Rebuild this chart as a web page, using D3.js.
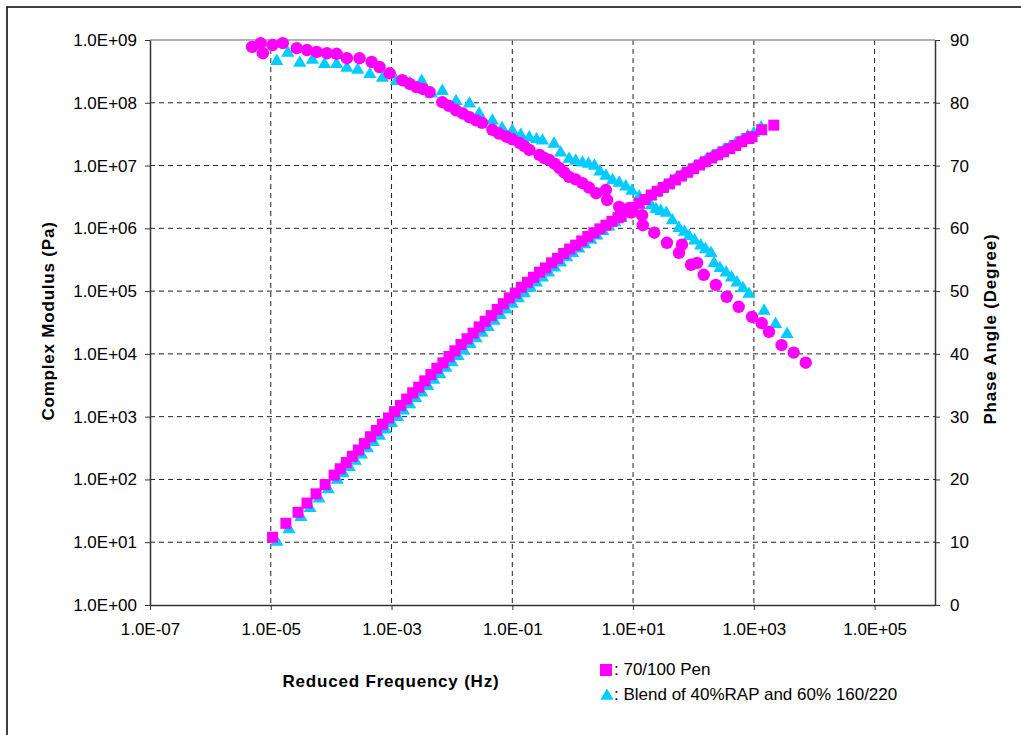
<!DOCTYPE html>
<html>
<head>
<meta charset="utf-8">
<script src="https://cdn.jsdelivr.net/npm/d3@7"></script>
<style>
  body { margin: 0; background: #fff; }
  text { font-family: "Liberation Sans", Arial, sans-serif; fill: #000; }
</style>
</head>
<body>
<div id="chart"></div>
<script>
// 70/100 Pen - complex modulus (squares)
var penFreqG = [1.07e-5, 1.78e-5, 2.82e-5, 3.98e-5, 5.62e-5, 7.94e-5, 1.12e-4, 1.41e-4, 1.78e-4, 2.24e-4, 2.82e-4, 3.55e-4, 4.47e-4, 5.62e-4, 7.08e-4, 8.91e-4,
  1.12e-3, 1.41e-3, 1.78e-3, 2.24e-3, 2.82e-3, 3.55e-3, 4.47e-3, 5.62e-3, 7.08e-3, 8.91e-3,
  1.12e-2, 1.41e-2, 1.78e-2, 2.24e-2, 2.82e-2, 3.55e-2, 4.47e-2, 5.62e-2, 7.08e-2, 8.91e-2,
  0.112, 0.141, 0.178, 0.224, 0.282, 0.355, 0.447, 0.562, 0.708, 0.891,
  1.12, 1.41, 1.78, 2.24, 2.82, 3.55, 4.47, 5.62, 6.31, 7.94,
  10, 12.6, 15.8, 20, 25.1, 31.6, 39.8, 50.1, 63.1, 79.4,
  100, 126, 158, 200, 251, 316, 398, 501, 631, 794,
  933, 1350, 2140];
var penG = [12, 20, 30, 42, 59, 83, 117, 148, 186, 234, 295, 372, 479, 603, 759, 955,
  1.2e3, 1.51e3, 1.91e3, 2.4e3, 2.95e3, 3.72e3, 4.68e3, 5.9e3, 7.2e3, 9.1e3,
  1.12e4, 1.41e4, 1.74e4, 2.14e4, 2.69e4, 3.31e4, 4.07e4, 5.1e4, 6.3e4, 7.8e4,
  9.3e4, 1.15e5, 1.38e5, 1.66e5, 2.0e5, 2.34e5, 2.82e5, 3.31e5, 3.98e5, 4.68e5,
  5.4e5, 6.3e5, 7.4e5, 8.5e5, 9.8e5, 1.12e6, 1.29e6, 1.48e6, 1.58e6, 1.86e6,
  2.14e6, 2.51e6, 2.88e6, 3.39e6, 3.89e6, 4.47e6, 5.1e6, 5.9e6, 6.8e6, 7.8e6,
  8.9e6, 1.02e7, 1.15e7, 1.32e7, 1.48e7, 1.66e7, 1.86e7, 2.09e7, 2.4e7, 2.69e7,
  2.88e7, 3.72e7, 4.4e7];

// Blend - complex modulus (triangles)
var blendFreqG = [1.26e-5, 2.0e-5, 3.16e-5, 4.47e-5, 6.31e-5, 8.91e-5,
  1.26e-4, 1.58e-4, 2.0e-4, 2.51e-4, 3.16e-4, 3.98e-4, 5.01e-4, 6.31e-4, 7.94e-4, 1.0e-3,
  1.26e-3, 1.58e-3, 2.0e-3, 2.51e-3, 3.16e-3, 3.98e-3, 5.01e-3, 6.31e-3, 7.94e-3, 1.0e-2,
  1.26e-2, 1.58e-2, 2.0e-2, 2.51e-2, 3.16e-2, 3.98e-2, 5.01e-2, 6.31e-2, 7.94e-2, 0.1,
  0.126, 0.158, 0.2, 0.251, 0.316, 0.398, 0.501, 0.631, 0.794, 1.0,
  1.26, 1.58, 2.0, 2.51, 3.16, 3.98, 5.01, 6.31, 7.94, 10,
  12.6, 15.8, 20, 25.1, 31.6, 39.8, 50.1, 63.1, 79.4, 100,
  126, 158, 200, 251, 316, 398, 501, 631, 794, 1000, 1320];
var blendG = [10.5, 16.6, 26, 36, 51, 72,
  102, 129, 162, 204, 257, 324, 407, 513, 646, 813,
  1.02e3, 1.29e3, 1.62e3, 2.04e3, 2.51e3, 3.16e3, 3.98e3, 4.9e3, 6.17e3, 7.59e3,
  9.55e3, 1.17e4, 1.48e4, 1.82e4, 2.24e4, 2.75e4, 3.47e4, 4.27e4, 5.25e4, 6.46e4,
  7.94e4, 9.55e4, 1.17e5, 1.41e5, 1.7e5, 2.04e5, 2.45e5, 2.95e5, 3.55e5, 4.17e5,
  4.9e5, 5.75e5, 6.76e5, 7.94e5, 9.33e5, 1.1e6, 1.29e6, 1.51e6, 1.78e6, 2.09e6,
  2.45e6, 2.88e6, 3.39e6, 3.89e6, 4.57e6, 5.25e6, 6.17e6, 7.08e6, 8.13e6, 9.33e6,
  1.07e7, 1.23e7, 1.41e7, 1.58e7, 1.82e7, 2.04e7, 2.34e7, 2.63e7, 3.02e7, 3.39e7, 4.17e7];

// 70/100 Pen - phase angle (circles)
var penFreqPhase = [4.9e-6, 6.8e-6, 7.4e-6, 1.07e-5, 1.58e-5, 2.69e-5, 3.98e-5, 5.75e-5, 8.51e-5,
  1.23e-4, 1.82e-4, 2.95e-4, 4.68e-4, 6.31e-4, 9.33e-4,
  1.51e-3, 2.0e-3, 2.57e-3, 3.3e-3, 4.27e-3, 6.92e-3, 8.9e-3,
  1.17e-2, 1.51e-2, 1.95e-2, 2.51e-2, 3.16e-2, 4.68e-2, 6.03e-2, 7.94e-2,
  0.1, 0.132, 0.158, 0.191, 0.282, 0.339, 0.407, 0.501, 0.603, 0.724, 0.871,
  1.12, 1.45, 1.86, 2.45, 3.55, 3.72, 5.89, 6.2, 8.5, 9.33,
  14.1, 14.5, 22.4, 36.3, 57.5, 64.6, 91.2,
  115, 148, 234, 355, 562, 933,
  1350, 1780, 2880, 4570, 7240];
var penPhase = [88.9, 89.5, 87.9, 89.2, 89.5, 88.7, 88.4, 88.1, 87.9,
  87.8, 87.1, 87.1, 86.5, 85.7, 84.7,
  83.6, 83.0, 82.5, 82.2, 81.7, 80.1, 79.5,
  78.8, 78.3, 77.7, 77.2, 76.8, 75.7, 75.1, 74.6,
  74.2, 73.6, 73.1, 72.5, 71.7, 71.2, 70.9, 70.3, 69.6, 68.9, 68.2,
  67.8, 67.2, 66.5, 65.6, 66.1, 64.5, 63.4, 61.8, 63.2, 62.5,
  62.1, 60.5, 59.3, 57.7, 56.1, 57.4, 54.2,
  54.5, 52.6, 51.0, 49.1, 47.5, 45.9,
  44.9, 43.5, 41.4, 40.2, 38.6];

// Blend - phase angle (triangles)
var blendFreqPhase = [1.26e-5, 1.91e-5, 3.02e-5, 4.9e-5, 7.76e-5,
  1.23e-4, 1.82e-4, 2.75e-4, 4.37e-4, 7.08e-4,
  1.2e-3, 2.0e-3, 3.16e-3, 4.57e-3, 6.92e-3,
  1.17e-2, 1.95e-2, 2.82e-2, 4.68e-2, 6.76e-2,
  0.1, 0.138, 0.191, 0.251, 0.316, 0.49, 0.631, 0.871,
  1.12, 1.45, 1.82, 2.29, 2.82, 3.55, 4.57, 5.89, 7.59, 9.55,
  12.6, 16.2, 20, 24.0, 28.8, 35.5, 44.7, 57.5, 70.8, 85.1,
  105, 132, 158, 195, 219, 275, 347, 427, 525, 661, 832,
  1480, 2290, 3550];
var blendPhase = [86.8, 88.1, 86.5, 87.0, 86.3,
  86.3, 85.7, 85.4, 84.7, 84.1,
  83.6, 83.3, 83.6, 81.6, 82.0,
  80.4, 80.0, 78.4, 77.3, 76.1,
  75.7, 75.0, 74.6, 74.3, 74.1, 73.6, 72.2, 71.2,
  70.9, 70.6, 70.4, 70.1, 69.2, 68.5, 67.8, 67.4, 66.8, 66.1,
  65.2, 64.5, 63.8, 63.2, 62.9, 62.6, 61.4, 60.2, 59.6, 58.9,
  58.2, 57.4, 56.8, 56.2, 54.6, 53.8, 53.1, 52.3, 51.5, 50.6, 49.7,
  47.0, 44.9, 43.3];

var freqTicks = [1e-7, 1e-5, 1e-3, 1e-1, 1e1, 1e3, 1e5];
var modTicks = [1e0, 1e1, 1e2, 1e3, 1e4, 1e5, 1e6, 1e7, 1e8, 1e9];
var phaseTicks = [0, 10, 20, 30, 40, 50, 60, 70, 80, 90];
var legendNames = [": 70/100 Pen", ": Blend of 40%RAP and 60% 160/220"];

var pink = "#ff00ff", cyan = "#00ccff";

var svgWidth = 1021, svgHeight = 735;
var margin = { top: 40, right: 86, bottom: 130, left: 150 };
var w = 935 - margin.left;
var h = 605 - margin.top;

var svg = d3.select("#chart").append("svg")
    .attr("width", svgWidth)
    .attr("height", svgHeight);

svg.append("rect").attr("width", svgWidth).attr("height", svgHeight).attr("fill", "#fff");
// outer frame (runs off the right and bottom edges)
svg.append("rect")
    .attr("x", 7).attr("y", 7)
    .attr("width", svgWidth + 20).attr("height", svgHeight + 20)
    .attr("fill", "none").attr("stroke", "#000").attr("stroke-width", 1.5);

var g = svg.append("g").attr("transform", `translate(${margin.left}, ${margin.top})`);

var x = d3.scaleLog().domain([1e-7, 1e6]).range([0, w]);
var y = d3.scaleLog().domain([1e0, 1e9]).range([h, 0]);
var yPhase = d3.scaleLinear().domain([0, 90]).range([h, 0]);

function fmtE(v) {
    var e = Math.round(Math.log10(v));
    return "1.0E" + (e < 0 ? "-" : "+") + String(Math.abs(e)).padStart(2, "0");
}

// gridlines
g.append("g").selectAll("line").data(modTicks.slice(1, -1)).enter().append("line")
    .attr("x1", 0).attr("x2", w)
    .attr("y1", d => y(d)).attr("y2", d => y(d))
    .attr("stroke", "#222").attr("stroke-dasharray", "5,4");
g.append("g").selectAll("line").data(freqTicks.slice(1)).enter().append("line")
    .attr("x1", d => x(d)).attr("x2", d => x(d))
    .attr("y1", 0).attr("y2", h)
    .attr("stroke", "#222").attr("stroke-dasharray", "5,4");
g.append("line").attr("x1", 0).attr("x2", w).attr("y1", 0).attr("y2", 0)
    .attr("stroke", "#999").attr("stroke-width", 1.5);

// axes
var leftAxis = d3.axisLeft(y).tickValues(modTicks).tickFormat(fmtE).tickSize(5).tickSizeOuter(0).tickPadding(8);
var bottomAxis = d3.axisBottom(x).tickValues(freqTicks).tickFormat(fmtE).tickSize(5).tickSizeOuter(0).tickPadding(13);
var rightAxis = d3.axisRight(yPhase).tickValues(phaseTicks).tickFormat(d3.format("d")).tickSize(5).tickSizeOuter(0).tickPadding(10);

function styleAxis(sel) {
    sel.select(".domain").attr("stroke", "#333").attr("stroke-width", 1.5);
    sel.selectAll(".tick line").attr("stroke", "#333");
    sel.selectAll("text").style("font-size", "17px").attr("fill", "#000");
}
g.append("g").call(leftAxis).call(styleAxis);
g.append("g").attr("transform", `translate(0, ${h})`).call(bottomAxis).call(styleAxis);
g.append("g").attr("transform", `translate(${w}, 0)`).call(rightAxis).call(styleAxis);

// markers
var tri = d3.symbol().type(d3.symbolTriangle).size(75);
var blendPhasePts = blendFreqPhase.map((f, i) => [f, blendPhase[i]]);
var blendGPts = blendFreqG.map((f, i) => [f, blendG[i]]);
var penPhasePts = penFreqPhase.map((f, i) => [f, penPhase[i]]);
var penGPts = penFreqG.map((f, i) => [f, penG[i]]);

g.append("g").selectAll("path").data(blendPhasePts).enter().append("path")
    .attr("d", tri)
    .attr("transform", d => `translate(${x(d[0])}, ${yPhase(d[1]) + 1})`)
    .attr("fill", cyan);
g.append("g").selectAll("path").data(blendGPts).enter().append("path")
    .attr("d", tri)
    .attr("transform", d => `translate(${x(d[0])}, ${y(d[1]) + 1})`)
    .attr("fill", cyan);
g.append("g").selectAll("circle").data(penPhasePts).enter().append("circle")
    .attr("cx", d => x(d[0])).attr("cy", d => yPhase(d[1]))
    .attr("r", 6.2).attr("fill", pink);
g.append("g").selectAll("rect").data(penGPts).enter().append("rect")
    .attr("x", d => x(d[0]) - 5.5).attr("y", d => y(d[1]) - 5.5)
    .attr("width", 11).attr("height", 11).attr("fill", pink);

// axis titles
svg.append("text")
    .attr("x", 391).attr("y", 687)
    .attr("text-anchor", "middle")
    .style("font-size", "17px").style("font-weight", "bold").style("letter-spacing", "0.8px")
    .text("Reduced Frequency (Hz)");
svg.append("text")
    .attr("transform", "translate(54, 321) rotate(-90)")
    .attr("text-anchor", "middle")
    .style("font-size", "17px").style("font-weight", "bold").style("letter-spacing", "0.8px")
    .text("Complex Modulus (Pa)");
svg.append("text")
    .attr("transform", "translate(996, 329) rotate(-90)")
    .attr("text-anchor", "middle")
    .style("font-size", "17px").style("font-weight", "bold").style("letter-spacing", "0.8px")
    .text("Phase Angle (Degree)");

// legend
var legend = svg.append("g");
legend.append("rect").attr("x", 600).attr("y", 664).attr("width", 12).attr("height", 12).attr("fill", pink);
legend.append("path").attr("d", tri).attr("transform", "translate(607, 696)").attr("fill", cyan);
legend.selectAll("text.lg").data(legendNames).enter().append("text")
    .attr("class", "lg")
    .attr("x", 614).attr("y", (d, i) => 675 + i * 25)
    .style("font-size", "17px")
    .text(d => d);
</script>
</body>
</html>
